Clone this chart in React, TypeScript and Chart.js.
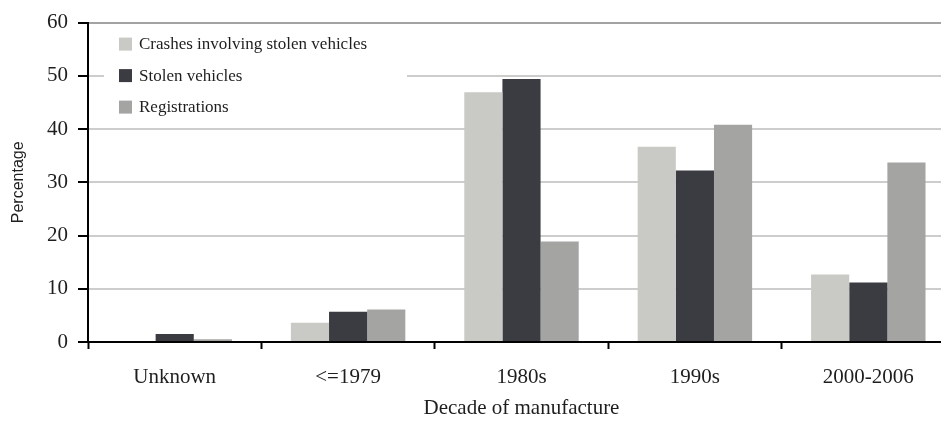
import React, { useEffect, useRef } from "react";
import { Chart, registerables } from "chart.js";

Chart.register(...registerables);

const categories = ["Unknown", "<=1979", "1980s", "1990s", "2000-2006"];
const seriesNames = ["Crashes involving stolen vehicles", "Stolen vehicles", "Registrations"];
const crashesValues = [0, 3.6, 46.9, 36.7, 12.7];
const stolenValues = [1.5, 5.7, 49.4, 32.2, 11.2];
const registrationValues = [0.5, 6.1, 18.9, 40.8, 33.7];
const yTicks = [0, 10, 20, 30, 40, 50, 60];

const seriesColors = ["#c9cac5", "#3b3c41", "#a4a5a3"];

const SERIF = "'Liberation Serif', 'Times New Roman', serif";
const SANS = "'Liberation Sans', Arial, sans-serif";

const insideLegend = {
  id: "insideLegend",
  beforeDatasetsDraw(chart: any) {
    const { ctx, chartArea } = chart;
    const left = chartArea.left;
    const top = chartArea.top;
    ctx.save();
    ctx.fillStyle = "#ffffff";
    ctx.fillRect(left + 16, top + 7, 303, 90);
    ctx.font = `17px ${SERIF}`;
    ctx.textBaseline = "middle";
    ctx.textAlign = "left";
    chart.data.datasets.forEach((ds: any, i: number) => {
      const cy = top + 21.5 + i * 31.5;
      ctx.fillStyle = ds.backgroundColor;
      ctx.fillRect(left + 31, cy - 6.5, 13, 13);
      ctx.fillStyle = "#1e1e1e";
      ctx.fillText(ds.label, left + 51, cy + 0.5);
    });
    ctx.restore();
  },
};

export default function App() {
  const canvasRef = useRef<HTMLCanvasElement | null>(null);

  useEffect(() => {
    const canvas = canvasRef.current;
    if (!canvas) return;
    const values = [crashesValues, stolenValues, registrationValues];
    const chart = new Chart(canvas, {
      type: "bar",
      data: {
        labels: categories,
        datasets: seriesNames.map((name, i) => ({
          label: name,
          data: values[i],
          backgroundColor: seriesColors[i],
          borderWidth: 0,
          categoryPercentage: 0.66,
          barPercentage: 1,
        })),
      },
      options: {
        responsive: false,
        animation: false,
        devicePixelRatio: 1,
        layout: { padding: { top: 22, right: 5, left: 0, bottom: 0 } },
        plugins: {
          legend: { display: false },
          tooltip: { enabled: false },
          title: { display: false },
        },
        scales: {
          x: {
            offset: true,
            afterFit: (scale: any) => {
              scale.height = 81;
            },
            grid: {
              display: true,
              drawOnChartArea: false,
              drawTicks: true,
              tickLength: 7,
              tickColor: "#000000",
              tickWidth: 2,
              offset: true,
            },
            border: { display: true, color: "#000000", width: 2 },
            ticks: {
              color: "#1e1e1e",
              font: { family: SERIF, size: 21 },
              padding: 16,
              maxRotation: 0,
              autoSkip: false,
            },
            title: {
              display: true,
              text: "Decade of manufacture",
              color: "#1e1e1e",
              font: { family: SERIF, size: 21 },
              padding: { top: 0, bottom: 2 },
            },
          },
          y: {
            min: 0,
            max: 60,
            afterFit: (scale: any) => {
              scale.width = 88;
            },
            afterBuildTicks: (scale: any) => {
              scale.ticks = yTicks.map((v) => ({ value: v }));
            },
            grid: {
              color: (c: any) => (c.tick && c.tick.value === 60 ? "#a3a3a3" : "#cdcdcd"),
              lineWidth: 2,
              drawTicks: true,
              tickLength: 10,
              tickColor: "#000000",
              tickWidth: 2,
            },
            border: { display: true, color: "#000000", width: 2 },
            ticks: {
              color: "#1e1e1e",
              font: { family: SERIF, size: 21 },
              padding: 10,
            },
            title: {
              display: true,
              text: "Percentage",
              color: "#1e1e1e",
              font: { family: SANS, size: 16 },
              padding: { top: 9, bottom: 0 },
            },
          },
        },
      },
      plugins: [insideLegend],
    });
    return () => chart.destroy();
  }, []);

  return (
    <div
      style={{
        position: "fixed",
        left: 0,
        top: 0,
        width: 941,
        height: 423,
        overflow: "hidden",
        background: "#ffffff",
      }}
    >
      <canvas ref={canvasRef} width={960} height={423} style={{ display: "block" }} />
    </div>
  );
}
